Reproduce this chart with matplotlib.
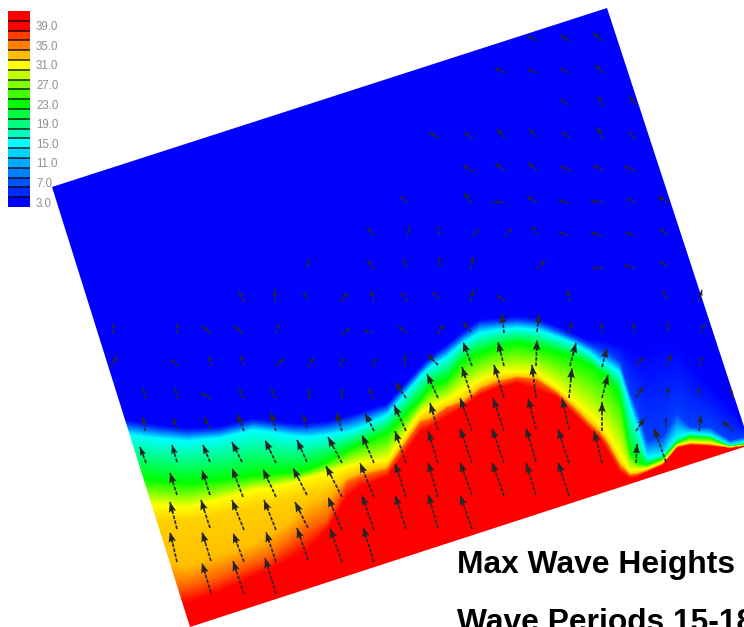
import numpy as np
import matplotlib
matplotlib.use("Agg")
import matplotlib.pyplot as plt
from matplotlib.colors import LinearSegmentedColormap
from matplotlib.patches import Polygon

plt.rcParams['font.family'] = ['Liberation Sans', 'DejaVu Sans']

# Wave-height field, read column by column: image x and the y at which each level is reached
COL_X = [120,153,187,220,253,270,293,307,327,347,360,387,420,430,447,463,480,497,517,537,557,573,
         590,600,607,620,630,638,647,663,677,690,710,730,744]
Y_HAZE = [419,424,428,426,418,420,423,423,421,416,412,403,366,356,344,331,319,318,316,318,326,333,
          340,340,342,345,348,350,350,340,345,360,385,405,425]
Y_BLUE = [423,428,432,430,422,424,427,427,425,420,416,407,370,360,348,335,323,322,320,322,330,337,
          345,350,352,362,393,412,440,437,413,427,427,440,437]
Y_CYAN = [433,438,441,438,430,432,436,437,435,432,428,415,377,367,357,343,333,330,328,330,337,343,
          353,362,364,373,405,430,458,455,437,433,435,445,442]
Y_GREEN = [475,480,483,480,476,474,472,470,462,450,444,433,400,387,380,360,353,347,343,347,352,357,
           365,372,376,395,452,462,465,458,443,437,438,446,444]
Y_YELLOW = [512,505,508,500,490,488,483,478,473,467,463,460,413,407,400,390,380,373,372,373,387,400,
            415,425,432,455,470,470,468,462,445,442,443,447,445]
Y_GOLD = [530,520,520,515,507,503,497,492,488,475,470,465,418,414,405,398,385,378,375,377,390,404,
          420,430,438,462,473,472,470,463,446,443,444,447,445]
Y_PLATEAU = [570,560,567,555,545,535,520,505,495,478,473,467,420,417,406,400,387,380,376,378,391,405,
             422,431,440,463,474,473,470,463,446,443,444,447,445]
Y_ORANGE = [600,590,587,577,563,557,540,530,520,483,477,470,423,420,408,403,390,383,378,380,393,408,
            425,434,443,466,475,474,471,464,447,444,445,448,446]
Y_RED = [615,606,603,592,577,570,558,550,530,497,487,477,433,427,417,407,395,388,383,390,397,413,
         430,438,450,472,479,477,472,465,448,445,446,448,446]
LEVELS = [3, 6, 15, 23, 31, 32.4, 33, 36, 39]

CMAP_LEVELS = [3, 15, 23, 31, 39]
CMAP_COLORS = ['#0000ff', '#00ffff', '#00ff00', '#ffff00', '#ff0000']

# Domain outline (rotated model grid)
DOMAIN_X = [52, 607, 750, 190]
DOMAIN_Y = [187, 8, 445, 627]

# Legend
BAR_VALUES = [3, 5, 7, 9, 11, 13, 15, 17, 19, 21, 23, 25, 27, 29, 31, 33, 35, 37, 39, 41]
BAR_LABELS = ['3.0', '7.0', '11.0', '15.0', '19.0', '23.0', '27.0', '31.0', '35.0', '39.0']
BAR_LABEL_VALUES = [3, 7, 11, 15, 19, 23, 27, 31, 35, 39]

TITLE_1 = 'Max Wave Heights'
TITLE_2 = 'Wave Periods 15-18'

# Wave vectors by row: (tip x, tip y, tail x, tail y)
ROW_01 = [(527,35,537,41),(560,35,570,41),(593,33,603,41)]
ROW_02 = [(495,68,505,73),(527,69,537,73),(560,68,569,73),(595,65,603,73)]
ROW_03 = [(560,99,568,105),(598,96,603,106),(629,96,636,105)]
ROW_04 = [(429,132,439,139),(464,132,473,139),(497,129,505,139),(529,129,537,137),(562,132,570,138),
          (597,127,603,139),(629,131,635,139)]
ROW_05 = [(463,165,473,172),(495,163,505,171),(528,163,537,171),(560,166,571,171),(593,165,603,171),
          (624,166,635,171)]
ROW_06 = [(400,196,407,203),(464,193,472,203),(493,202,505,202),(527,196,537,203),(558,200,569,203),
          (591,201,603,202),(626,198,635,203),(658,196,668,203)]
ROW_07 = [(367,227,373,236),(410,227,407,236),(437,226,440,235),(479,229,473,236),(512,228,505,236),
          (532,226,537,235),(558,232,568,235),(591,232,602,236),(625,232,634,235),(659,228,667,235)]
ROW_08 = [(309,259,307,268),(367,260,374,269),(404,258,406,268),(439,257,440,267),(473,257,471,269),
          (545,260,537,269),(592,268,603,268),(624,265,635,268),(659,261,667,267)]
ROW_09 = [(239,291,244,302),(275,290,275,302),(303,292,308,300),(347,292,341,302),(371,291,374,302),
          (401,292,407,301),(432,292,439,299),(473,290,471,302),(496,295,505,301),(567,290,570,301),
          (663,291,667,299),(702,290,699,301)]
ROW_10 = [(113,323,113,333),(177,323,177,333),(202,326,211,334),(234,326,243,334),(280,324,276,333),
          (350,328,342,334),(363,330,373,333),(398,326,407,333),(444,324,438,334),(463,322,471,332),
          (502,313,504,333),(539,314,537,332),(572,322,569,333),(602,322,602,333),(634,322,634,333),
          (668,322,668,332),(705,323,700,333)]
ROW_11 = [(117,356,111,367),(170,359,178,366),(208,356,212,366),(241,355,244,366),(284,358,276,366),
          (314,357,308,367),(344,357,340,366),(376,357,373,367),(405,355,405,366),(427,354,438,365),
          (463,342,472,366),(498,342,504,366),(537,340,536,366),(576,343,570,366),(607,348,602,367),
          (643,357,636,366),(672,354,667,366),(702,356,700,366)]
ROW_12 = [(143,388,146,399),(175,388,178,399),(201,393,211,399),(239,388,244,399),(271,388,276,399),
          (309,388,309,399),(342,388,342,399),(369,388,374,399),(395,382,406,398),(427,374,438,398),
          (462,367,472,398),(494,365,504,398),(532,365,536,398),(572,368,569,398),(608,375,602,398),
          (643,387,636,398),(668,387,668,397),(699,387,699,397),(730,388,733,398)]
ROW_13 = [(143,417,145,431),(173,418,177,430),(204,417,210,429),(237,414,244,431),(271,412,276,431),
          (303,414,307,428),(336,412,342,431),(365,413,374,431),(394,405,406,431),(430,403,438,430),
          (460,398,472,431),(493,398,504,431),(528,398,536,429),(562,398,569,429),(602,402,602,431),
          (645,418,636,431),(666,418,666,427),(701,415,699,431),(722,421,733,431)]
ROW_14 = [(140,447,146,463),(172,445,177,462),(203,445,210,462),(232,442,242,462),(265,440,276,463),
          (297,440,307,462),(328,437,342,463),(362,435,374,463),(395,431,406,463),(428,431,438,463),
          (460,428,472,463),(492,428,504,463),(526,428,536,462),(558,429,569,463),(594,431,602,463),
          (637,444,636,463),(654,428,666,462)]
ROW_15 = [(170,473,177,495),(202,470,210,495),(232,468,243,497),(263,469,276,497),(293,468,307,495),
          (326,466,342,497),(360,463,374,497),(395,463,406,497),(428,462,438,497),(460,462,472,495),
          (492,462,504,496),(526,463,536,495),(558,462,569,496)]
ROW_16 = [(170,502,177,529),(201,500,210,528),(232,500,244,530),(264,500,276,530),(295,502,308,528),
          (328,497,342,530),(362,495,374,530),(395,495,406,529),(428,494,438,528),(460,495,472,529)]
ROW_17 = [(170,532,177,562),(202,532,211,561),(233,533,244,562),(266,532,276,562),(297,528,308,560),
          (330,528,342,562),(363,527,374,562)]
ROW_18 = [(202,563,211,593),(233,561,244,594),(265,558,276,594)]
ALL_ROWS = [ROW_01, ROW_02, ROW_03, ROW_04, ROW_05, ROW_06, ROW_07, ROW_08, ROW_09,
            ROW_10, ROW_11, ROW_12, ROW_13, ROW_14, ROW_15, ROW_16, ROW_17, ROW_18]

W, H = 744, 627
fig = plt.figure(figsize=(W / 100, H / 100), dpi=100, facecolor='white')
ax = fig.add_axes([0, 0, 1, 1])
ax.set_xlim(0, W)
ax.set_ylim(H, 0)
ax.axis('off')

# Colour scale
span = CMAP_LEVELS[-1] - CMAP_LEVELS[0]
cmap = LinearSegmentedColormap.from_list(
    'wave', [((lv - CMAP_LEVELS[0]) / span, c) for lv, c in zip(CMAP_LEVELS, CMAP_COLORS)], N=512)

# Field
isolines = [Y_HAZE, Y_BLUE, Y_CYAN, Y_GREEN, Y_YELLOW, Y_GOLD, Y_PLATEAU, Y_ORANGE, Y_RED]
xs = np.arange(W) + 0.5
ys = np.arange(H) + 0.5
Z = np.zeros((H, W))
for i, x in enumerate(xs):
    knots = np.array([np.interp(x, COL_X, iso) for iso in isolines])
    knots = np.maximum.accumulate(knots + np.arange(len(knots)) * 1e-3)
    Z[:, i] = np.interp(ys, knots, LEVELS)

domain = Polygon(np.column_stack([DOMAIN_X, DOMAIN_Y]), closed=True, transform=ax.transData,
                 facecolor='none', edgecolor='none')
ax.add_patch(domain)
im = ax.imshow(Z, extent=(0, W, H, 0), cmap=cmap, vmin=CMAP_LEVELS[0], vmax=CMAP_LEVELS[-1],
               interpolation='gaussian', aspect='auto', zorder=1)
im.set_clip_path(domain)

# Vectors: dotted shaft, solid head whose size follows the vector length
vec = np.array([a for row in ALL_ROWS for a in row], dtype=float)
tip_x, tip_y, tail_x, tail_y = vec.T
du, dv = tip_x - tail_x, tip_y - tail_y
length = np.hypot(du, dv)
head = np.minimum(length * 0.5, 11.0)
ax.plot(np.c_[tail_x, tip_x].T, np.c_[tail_y, tip_y].T, color='#2a2a2a', lw=1.2,
        ls=(0, (2.2, 0.9)), zorder=3)
ax.quiver(tip_x - du / length * head, tip_y - dv / length * head,
          du / length * head, dv / length * head,
          angles='xy', scale_units='xy', scale=1, units='xy', width=1.8,
          headwidth=4.2, headlength=5.6, headaxislength=4.8, minlength=0.1,
          color='#262626', zorder=4)

# Legend bar
bar_top, bar_bottom, bar_left, bar_right = 11, 207, 8, 30
edges = np.linspace(bar_bottom, bar_top, len(BAR_VALUES) + 1)
ax.pcolormesh([bar_left, bar_right], edges, np.array(BAR_VALUES, dtype=float)[:, None],
              cmap=cmap, vmin=CMAP_LEVELS[0], vmax=CMAP_LEVELS[-1], zorder=2)
ax.hlines(edges[1:-1], bar_left, bar_right, color='black', lw=1.2, alpha=0.8, zorder=3)
step = edges[0] - edges[1]
for val, lab in zip(BAR_LABEL_VALUES, BAR_LABELS):
    yy = edges[0] - (val - BAR_VALUES[0]) / 2 * step - step / 2 + 1.5
    ax.text(36, yy, lab, fontsize=8.3, color='#909090', ha='left', va='center', zorder=5)

# Titles
ax.text(457, 573, TITLE_1, fontsize=22.9, fontweight='bold', color='black', ha='left',
        va='baseline', zorder=5)
ax.text(457, 631, TITLE_2, fontsize=22.9, fontweight='bold', color='black', ha='left',
        va='baseline', zorder=5)

fig.savefig('out.png', dpi=100, facecolor='white')
